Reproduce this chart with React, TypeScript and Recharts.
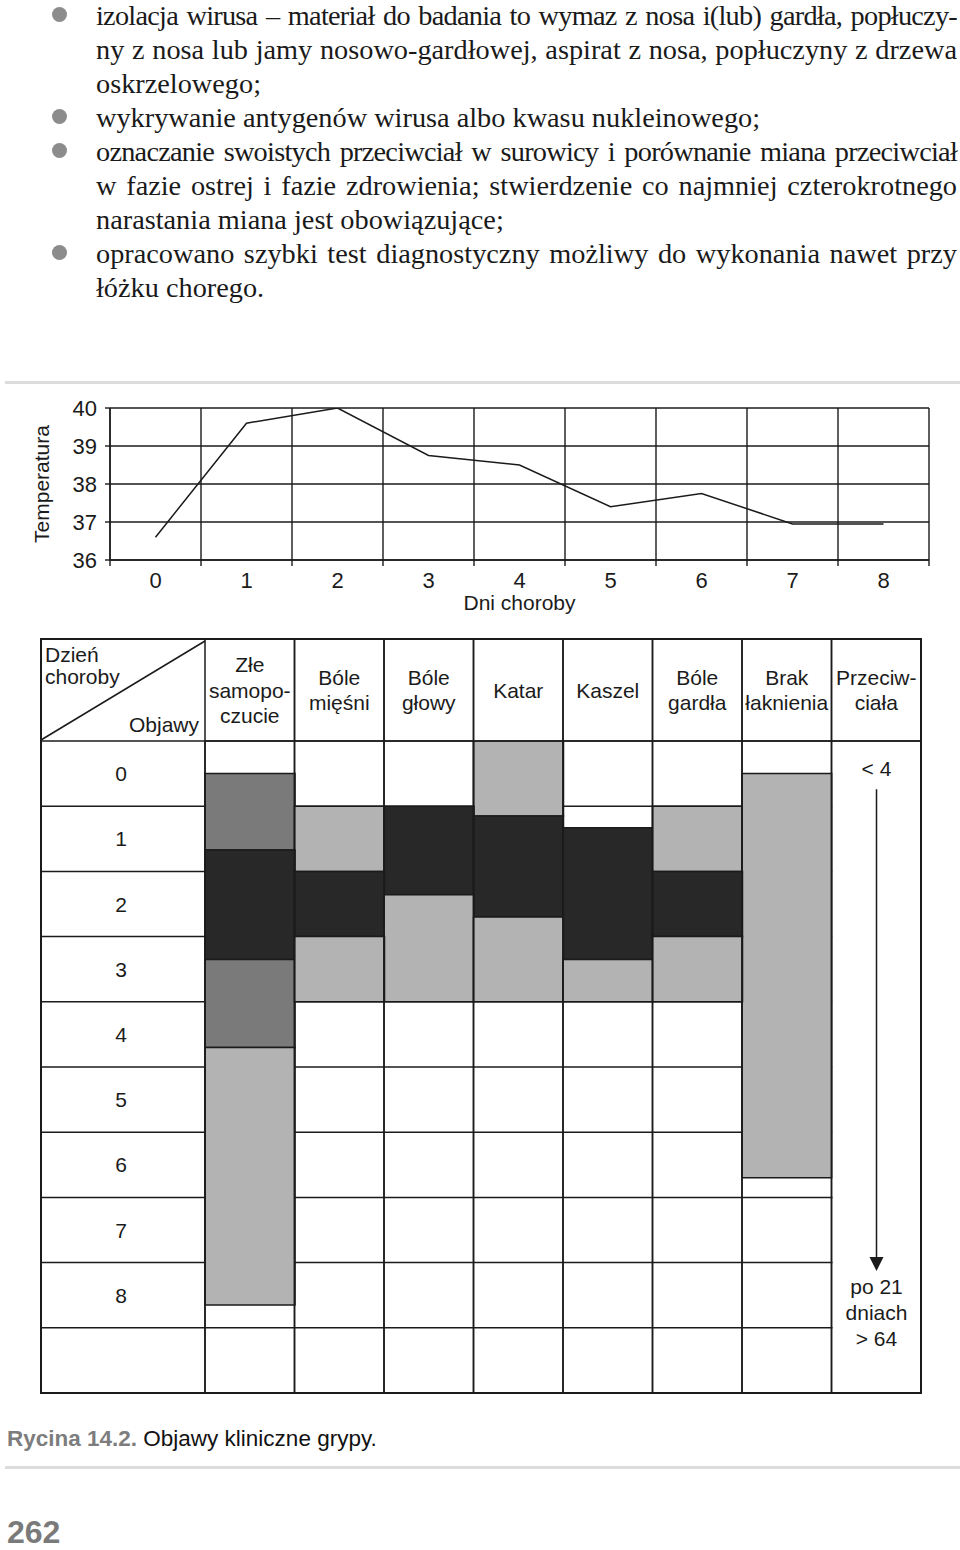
import React from 'react';
import { LineChart, Line, BarChart, Bar, Cell, XAxis, YAxis, CartesianGrid } from 'recharts';

const SANS = '"Liberation Sans", Arial, Helvetica, sans-serif';
const SERIF = '"Liberation Serif", "Times New Roman", serif';
const INK = '#1b1b1b';

// ---- text above the figure
const bodyLines = [
  { text: 'izolacja wirusa – materiał do badania to wymaz z nosa i(lub) gardła, popłuczy-', bullet: true, justify: true, tight: true },
  { text: 'ny z nosa lub jamy nosowo-gardłowej, aspirat z nosa, popłuczyny z drzewa', justify: true },
  { text: 'oskrzelowego;' },
  { text: 'wykrywanie antygenów wirusa albo kwasu nukleinowego;', bullet: true },
  { text: 'oznaczanie swoistych przeciwciał w surowicy i porównanie miana przeciwciał', bullet: true, justify: true, tight: true },
  { text: 'w fazie ostrej i fazie zdrowienia; stwierdzenie co najmniej czterokrotnego', justify: true },
  { text: 'narastania miana jest obowiązujące;' },
  { text: 'opracowano szybki test diagnostyczny możliwy do wykonania nawet przy', bullet: true, justify: true },
  { text: 'łóżku chorego.' },
];

// ---- temperature curve
const days = [0, 1, 2, 3, 4, 5, 6, 7, 8];
const temperature = [36.6, 39.6, 40, 38.75, 38.5, 37.4, 37.75, 36.95, 36.95];
const tempTicks = [36, 37, 38, 39, 40];
const dayBounds = [-0.5, 0.5, 1.5, 2.5, 3.5, 4.5, 5.5, 6.5, 7.5, 8.5];

// ---- symptom table
const symptomLabels = [
  ['Złe', 'samopo-', 'czucie'],
  ['Bóle', 'mięśni'],
  ['Bóle', 'głowy'],
  ['Katar'],
  ['Kaszel'],
  ['Bóle', 'gardła'],
  ['Brak', 'łaknienia'],
  ['Przeciw-', 'ciała'],
];
const dayLabels = ['0', '1', '2', '3', '4', '5', '6', '7', '8'];
const rowBounds = [0, 1, 2, 3, 4, 5, 6, 7, 8, 9, 10];

// [from day, to day, shade]
const zleSamopoczucie = [[0.5, 1.67, 'mid'], [1.67, 3.35, 'dark'], [3.35, 4.7, 'mid'], [4.7, 8.65, 'light']];
const boleMiesni = [[1, 2, 'light'], [2, 3, 'dark'], [3, 4, 'light']];
const boleGlowy = [[1, 2.36, 'dark'], [2.36, 4, 'light']];
const katar = [[0, 1.15, 'light'], [1.15, 2.7, 'dark'], [2.7, 4, 'light']];
const kaszel = [[1.33, 3.35, 'dark'], [3.35, 4, 'light']];
const boleGardla = [[1, 2, 'light'], [2, 3, 'dark'], [3, 4, 'light']];
const brakLaknienia = [[0.5, 6.7, 'light']];
const przeciwciala: any[] = [];
const symptomSpans: any[] = [zleSamopoczucie, boleMiesni, boleGlowy, katar, kaszel, boleGardla, brakLaknienia, przeciwciala];
const antibodyIndex = 7;

const antibodyStart = { text: '< 4', day: 0.54 };
const antibodyArrow = [0.74, 8.13];
const antibodyEnd = { lines: ['po 21', 'dniach', '> 64'], day: 8.48 };

const SHADE: Record<string, string> = { dark: '#282828', mid: '#7a7a7a', light: '#b3b3b3', none: 'transparent' };
const SEG_KEYS = ['s0', 's1', 's2', 's3', 's4'];

const tableData = symptomLabels.map((lines, i) => {
  const segs: [number, string][] = [];
  let pos = 0;
  symptomSpans[i].forEach(([from, to, shade]: any) => {
    if (from > pos) segs.push([from - pos, 'none']);
    segs.push([to - from, shade]);
    pos = to;
  });
  const row: any = { name: lines.join(' '), shades: [] };
  SEG_KEYS.forEach((k, si) => {
    row[k] = segs[si] ? segs[si][0] : 0;
    row.shades[si] = segs[si] ? segs[si][1] : 'none';
  });
  row.anti = i === antibodyIndex ? rowBounds[rowBounds.length - 1] : 0;
  return row;
});

const tempData = days.map((d, i) => ({ day: d, temp: temperature[i] }));

// layout of the table chart
const M = 2;
const DAY_COL_W = 164;
const HEADER_H = 102;
const PLOT_W = 716;
const PLOT_H = 652;
const COL_W = PLOT_W / symptomLabels.length;
const ROW_H = PLOT_H / (rowBounds.length - 1);
const T_W = M * 2 + DAY_COL_W + PLOT_W;
const T_H = M * 2 + HEADER_H + PLOT_H;

// temp chart
const TEMP_PLOT_W = 819;
const TEMP_BAND = TEMP_PLOT_W / days.length;

const DayBandTick = (props: any) => {
  const { x, y, payload } = props;
  const v = payload.value;
  if (v >= dayBounds[dayBounds.length - 1]) return null;
  return (
    <text x={x + TEMP_BAND / 2} y={y + 20} textAnchor="middle" fontSize={22} fontFamily={SANS} fill={INK}>
      {v + 0.5}
    </text>
  );
};

const DayRowTick = (props: any) => {
  const { y, payload } = props;
  const v = payload.value;
  return (
    <g>
      <line x1={M} x2={M + DAY_COL_W} y1={y} y2={y} stroke={INK} strokeWidth={1.5} />
      {v < dayLabels.length && (
        <text x={M + DAY_COL_W / 2 - 2} y={y + ROW_H / 2 + 7.5} textAnchor="middle" fontSize={21} fontFamily={SANS} fill={INK}>
          {dayLabels[v]}
        </text>
      )}
    </g>
  );
};

const HeaderTick = (props: any) => {
  const { x, index } = props;
  const lines = symptomLabels[index] || [];
  const cy = M + HEADER_H / 2;
  return (
    <g>
      <rect x={x - COL_W / 2} y={M} width={COL_W} height={HEADER_H + PLOT_H} fill="none" stroke={INK} strokeWidth={1.5} />
      {lines.map((t, k) => (
        <text key={k} x={x} y={cy + 7.5 + (k - (lines.length - 1) / 2) * 25.5} textAnchor="middle" fontSize={21} fontFamily={SANS} fill={INK}>
          {t}
        </text>
      ))}
    </g>
  );
};

const AntibodyShape = (props: any) => {
  const { x, y, width, height } = props;
  if (!height) return null;
  const top = Math.min(y, y + height);
  const h = Math.abs(height);
  const at = (d: number) => top + (h * d) / rowBounds[rowBounds.length - 1];
  const cx = x + width / 2;
  const tip = at(antibodyArrow[1]);
  return (
    <g>
      <rect x={x + 1} y={top + 1} width={width - 2} height={h - 2} fill="#fff" />
      <text x={cx} y={at(antibodyStart.day)} textAnchor="middle" fontSize={21} fontFamily={SANS} fill={INK}>{antibodyStart.text}</text>
      <line x1={cx} x2={cx} y1={at(antibodyArrow[0])} y2={tip - 12} stroke={INK} strokeWidth={1.5} />
      <path d={`M${cx - 7},${tip - 14} L${cx + 7},${tip - 14} L${cx},${tip} Z`} fill={INK} />
      {antibodyEnd.lines.map((t, k) => (
        <text key={k} x={cx} y={at(antibodyEnd.day) + k * 26.3} textAnchor="middle" fontSize={21} fontFamily={SANS} fill={INK}>{t}</text>
      ))}
    </g>
  );
};

export default function App() {
  const abs = (left: number, top: number, extra: any = {}) => ({ position: 'absolute' as const, left, top, ...extra });
  return (
    <div style={{ position: 'absolute', left: 0, top: 0, width: 960, height: 1550, background: '#fff', overflow: 'hidden' }}>
      {bodyLines.map((l, i) => {
        const baseline = 25.5 + 34 * i;
        return (
          <React.Fragment key={i}>
            {l.bullet && (
              <div style={abs(52, baseline - 11 - 7.5, { width: 15, height: 15, borderRadius: '50%', background: '#8c8c8c' })} />
            )}
            <div
              style={abs(96, baseline - 22.5, {
                width: 861,
                height: 26,
                lineHeight: '26px',
                fontFamily: SERIF,
                fontSize: 28.3,
                color: '#1a1a1a',
                whiteSpace: 'nowrap',
                textAlign: l.justify ? 'justify' : 'left',
                textAlignLast: l.justify ? 'justify' : 'left',
                letterSpacing: l.tight ? -0.75 : 0,
                wordSpacing: l.tight ? -3 : 0,
              })}
            >
              {l.text}
            </div>
          </React.Fragment>
        );
      })}

      <div style={abs(5, 381, { width: 955, height: 3, background: '#dcdcdc' })} />

      <div style={abs(0, 380)}>
        <LineChart width={960} height={236} data={tempData} margin={{ top: 28, right: 31, bottom: 0, left: 0 }}>
          <CartesianGrid stroke={INK} strokeWidth={1.4} />
          <XAxis
            type="number"
            dataKey="day"
            domain={[dayBounds[0], dayBounds[dayBounds.length - 1]]}
            ticks={dayBounds}
            interval={0}
            height={56}
            tickSize={6}
            tick={<DayBandTick />}
            tickLine={{ stroke: INK, strokeWidth: 1.4 }}
            axisLine={{ stroke: INK, strokeWidth: 1.4 }}
            label={{ value: 'Dni choroby', position: 'insideBottom', offset: 6, fill: INK, fontSize: 21, fontFamily: SANS }}
          />
          <YAxis
            type="number"
            domain={[36, 40]}
            ticks={tempTicks}
            interval={0}
            width={110}
            tickSize={5}
            tickMargin={8}
            tick={{ fontSize: 22, fill: INK, fontFamily: SANS }}
            tickLine={{ stroke: INK, strokeWidth: 1.4 }}
            axisLine={{ stroke: INK, strokeWidth: 1.4 }}
            allowDataOverflow
            label={({ viewBox }: any) => {
              const cy = viewBox.y + viewBox.height / 2;
              return (
                <text transform={`translate(49, ${cy}) rotate(-90)`} x={0} y={0} textAnchor="middle" fontSize={21} fontFamily={SANS} fill={INK}>
                  Temperatura
                </text>
              );
            }}
          />
          <Line type="linear" dataKey="temp" stroke={INK} strokeWidth={1.5} dot={false} isAnimationActive={false} />
        </LineChart>
      </div>

      <div style={abs(41 - M, 639 - M)}>
        <BarChart width={T_W} height={T_H} data={tableData} margin={{ top: M, right: M, bottom: M, left: M }} barCategoryGap={0} barGap={0}>
          <CartesianGrid vertical={false} stroke={INK} strokeWidth={1.5} />
          <YAxis
            type="number"
            domain={[rowBounds[0], rowBounds[rowBounds.length - 1]]}
            reversed
            ticks={rowBounds}
            interval={0}
            width={DAY_COL_W}
            tick={<DayRowTick />}
            tickLine={false}
            axisLine={{ stroke: INK, strokeWidth: 1.5 }}
            allowDataOverflow
          />
          {SEG_KEYS.map((k, si) => (
            <Bar key={k} dataKey={k} stackId="t" isAnimationActive={false}>
              {tableData.map((row: any, ci: number) => (
                <Cell
                  key={ci}
                  fill={SHADE[row.shades[si]]}
                  stroke={row.shades[si] === 'none' ? 'none' : INK}
                  strokeWidth={1.5}
                />
              ))}
            </Bar>
          ))}
          <Bar dataKey="anti" stackId="t" isAnimationActive={false} shape={<AntibodyShape />} />
          <XAxis
            dataKey="name"
            orientation="top"
            height={HEADER_H}
            interval={0}
            tickLine={false}
            axisLine={{ stroke: INK, strokeWidth: 1.5 }}
            tick={<HeaderTick />}
          />
        </BarChart>
      </div>

      <svg width={960} height={1550} style={abs(0, 0, { pointerEvents: 'none' })}>
        <rect x={41} y={639} width={880} height={754} fill="none" stroke={INK} strokeWidth={2} />
        <line x1={41} y1={740} x2={205} y2={641} stroke={INK} strokeWidth={1.5} />
        <text x={45} y={662} fontSize={21} fontFamily={SANS} fill={INK}>Dzień</text>
        <text x={45} y={684} fontSize={21} fontFamily={SANS} fill={INK}>choroby</text>
        <text x={199} y={732} textAnchor="end" fontSize={21} fontFamily={SANS} fill={INK}>Objawy</text>
        <text x={7} y={1543} fontSize={32} fontWeight="bold" fontFamily={SANS} fill="#7a7a7a">262</text>
      </svg>

      <div style={abs(7, 1426, { fontFamily: SANS, fontSize: 22.5, lineHeight: '26px', color: '#111', whiteSpace: 'nowrap' })}>
        <span style={{ fontWeight: 'bold', color: '#7d7d7d' }}>Rycina 14.2.</span> Objawy kliniczne grypy.
      </div>
      <div style={abs(5, 1466, { width: 955, height: 3, background: '#dcdcdc' })} />
    </div>
  );
}
